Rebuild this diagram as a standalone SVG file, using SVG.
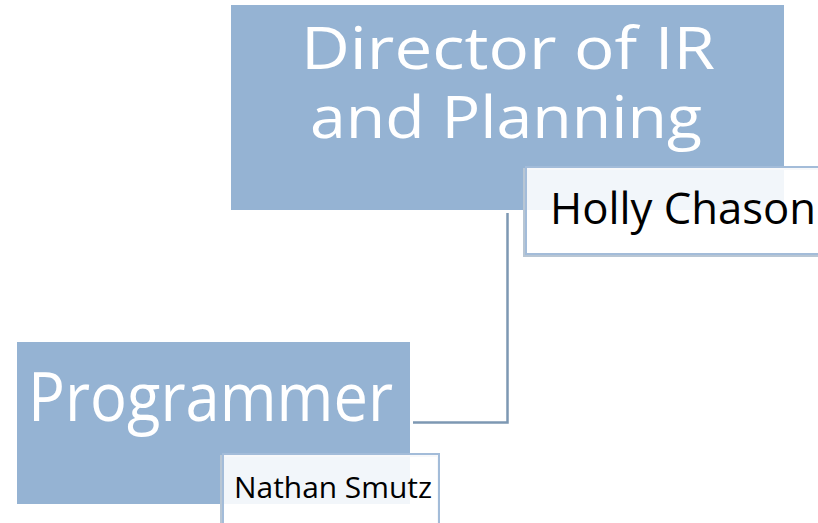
<svg xmlns="http://www.w3.org/2000/svg" width="818" height="523" viewBox="0 0 818 523">
<style>
.box{fill:#95b3d3}
.title{fill:#ffffff;font-family:"Open Sans","DejaVu Sans",sans-serif}
.sub{fill:rgba(255,255,255,0.88);stroke:#a3bcd9;stroke-width:2}
.shadow{fill:none;stroke:#b8c6d4;stroke-width:2}
.name{fill:#000000;font-family:"Open Sans","DejaVu Sans",sans-serif}
.conn{fill:none;stroke:#7d98b3;stroke-width:2.5}
</style>
<rect width="818" height="523" fill="#ffffff"/>
<g id="connectors">
<path class="conn" d="M507.5,213 V422.5 H413"/>
</g>
<g id="director">
<rect class="box" x="231" y="5" width="553" height="205"/>
<text class="title" x="301" y="69" font-size="59" textLength="414" lengthAdjust="spacingAndGlyphs">Director of IR</text>
<text class="title" x="310" y="138" font-size="59" textLength="392" lengthAdjust="spacingAndGlyphs">and Planning</text>
</g>
<g id="holly">
<rect class="shadow" x="524" y="169" width="300" height="87"/>
<rect class="sub" x="526" y="167" width="300" height="87"/>
<text class="name" x="550" y="224" font-size="44" textLength="266" lengthAdjust="spacingAndGlyphs">Holly Chason</text>
</g>
<g id="programmer">
<rect class="box" x="17" y="342" width="393" height="162"/>
<text class="title" x="28" y="421" font-size="67" textLength="365" lengthAdjust="spacingAndGlyphs">Programmer</text>
</g>
<g id="nathan">
<rect class="shadow" x="221" y="456" width="217" height="80"/>
<rect class="sub" x="223" y="454" width="216" height="80"/>
<text class="name" x="234" y="498" font-size="29" textLength="198" lengthAdjust="spacingAndGlyphs">Nathan Smutz</text>
</g>
</svg>
